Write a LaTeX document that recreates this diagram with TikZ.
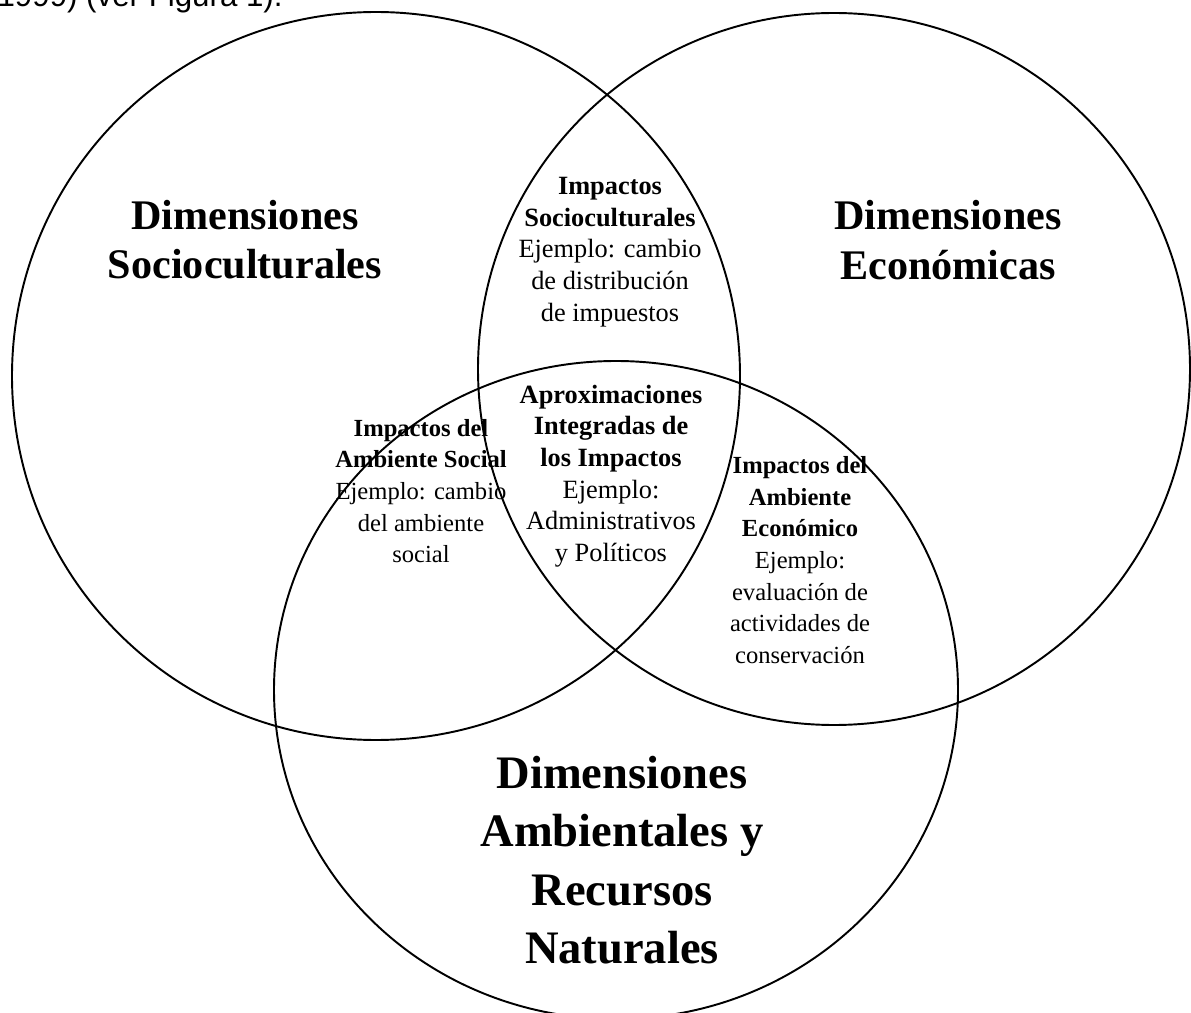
\documentclass[tikz,border=0pt]{standalone}
\usepackage{fontspec}
\setmainfont{Liberation Serif}
\newfontfamily\capfont{Liberation Sans}
\usetikzlibrary{positioning}
\tikzset{
        % big titles of the three sets
        set_title/.style={align=center, inner sep=0pt, font=\bfseries\fontsize{24}{28}\selectfont},
        set_title_big/.style={align=center, inner sep=0pt, font=\bfseries\fontsize{26.5}{33.3}\selectfont},
        % texts in the overlaps
        overlap_text/.style={align=center, inner sep=0pt, font=\fontsize{14}{18}\selectfont},
        overlap_text_big/.style={overlap_text, font=\fontsize{15}{18}\selectfont},
        % outlines of the sets
        set_line/.style={draw=black, line width=1.1pt}
}

\begin{document}
\begin{tikzpicture}[x=0.02cm, y=-0.02cm]
            \useasboundingbox (0,0) rectangle (1191,1013);
            % cut-off caption line above the figure
            \begin{scope}
                \clip (0,0) rectangle (1191,1013);
                \node[anchor=base east, inner sep=0pt, font=\capfont\fontsize{17.8}{20}\selectfont] (caption) at (283,6.5) {1999) (ver Figura 1).};
            \end{scope}
            % the three sets
            \coordinate (social) at (376,376);
            \coordinate (economic) at (834,369);
            \coordinate (environment) at (616,690);
            \draw[set_line] (social) circle[radius=364];
            \draw[set_line] (economic) circle[radius=356];
            \draw[set_line] (environment) ellipse[x radius=342, y radius=329];
            % titles
            \node[set_title] (t_social) at (245,240) {Dimensiones\\Socioculturales};
            \node[set_title] (t_economic) at (948,240) {Dimensiones\\Económicas};
            \node[set_title_big] (t_environment) at (622,860) {Dimensiones\\Ambientales y\\Recursos\\Naturales};
            % overlaps
            \node[overlap_text_big] (o_top) at (610,252)
                {\textbf{Impactos}\\\textbf{Socioculturales}\\Ejemplo: cambio\\de distribución\\de impuestos};
            \node[overlap_text_big] (o_center) at (611,476)
                {\textbf{Aproximaciones}\\\textbf{Integradas de}\\\textbf{los Impactos}\\Ejemplo:\\Administrativos\\y Políticos};
            \node[overlap_text] (o_left) at (421,491)
                {\textbf{Impactos del}\\\textbf{Ambiente Social}\\Ejemplo: cambio\\del ambiente\\social};
            \node[overlap_text] (o_right) at (800,560)
                {\textbf{Impactos del}\\\textbf{Ambiente}\\\textbf{Económico}\\Ejemplo:\\evaluación de\\actividades de\\conservación};
\end{tikzpicture}
\end{document}
